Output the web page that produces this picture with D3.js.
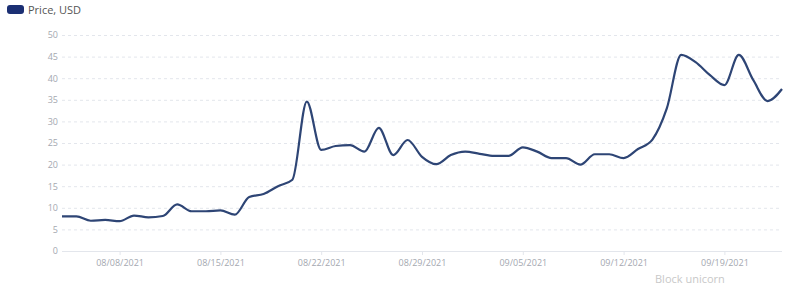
<!DOCTYPE html>
<html><head><meta charset="utf-8">
<script src="https://cdn.jsdelivr.net/npm/d3@7"></script>
<style>body{margin:0;background:#fff;}svg{display:block;font-family:"Open Sans",sans-serif;}</style>
</head><body><svg id="c" width="800" height="286"></svg>
<script>
const dates = ["2021-08-04","2021-08-05","2021-08-06","2021-08-07","2021-08-08","2021-08-09","2021-08-10","2021-08-11","2021-08-12","2021-08-13","2021-08-14","2021-08-15","2021-08-16","2021-08-17","2021-08-18","2021-08-19","2021-08-20","2021-08-21","2021-08-22","2021-08-23","2021-08-24","2021-08-25","2021-08-26","2021-08-27","2021-08-28","2021-08-29","2021-08-30","2021-08-31","2021-09-01","2021-09-02","2021-09-03","2021-09-04","2021-09-05","2021-09-06","2021-09-07","2021-09-08","2021-09-09","2021-09-10","2021-09-11","2021-09-12","2021-09-13","2021-09-14","2021-09-15","2021-09-16","2021-09-17","2021-09-18","2021-09-19","2021-09-20","2021-09-21","2021-09-22","2021-09-23"];
const prices = [8,8,7,7.2,6.9,8.2,7.8,8.1,10.8,9.2,9.2,9.4,8.4,12.5,13.2,15,16.5,34.6,23.4,24.3,24.5,23,28.5,22.2,25.7,21.8,20.1,22.2,23,22.5,22,22,24,23,21.5,21.5,20,22.4,22.4,21.5,23.6,25.8,33,45.4,43.7,40.7,38.4,45.4,39.6,34.7,37.5];
const yTicks = [0,5,10,15,20,25,30,35,40,45,50];
const xTickDates = ["2021-08-08","2021-08-15","2021-08-22","2021-08-29","2021-09-05","2021-09-12","2021-09-19"];
const seriesName = "Price, USD";

const parse = d3.utcParse("%Y-%m-%d");
const fmt = d3.utcFormat("%m/%d/%Y");
const data = dates.map((d,i)=>({date:parse(d), v:prices[i]}));
const svg = d3.select("#c");
const mLeft=62, mRight=782, mTop=35, mBottom=251;
const x = d3.scaleUtc().domain([parse(dates[0]), parse(dates[dates.length-1])]).range([mLeft,mRight]);
const y = d3.scaleLinear().domain([0,50]).range([mBottom,mTop]);

// grid
svg.append("g").selectAll("line").data(yTicks.filter(t=>t>0)).join("line")
  .attr("x1",mLeft).attr("x2",mRight).attr("y1",d=>y(d)+0.5).attr("y2",d=>y(d)+0.5)
  .attr("stroke","#e3e6ec").attr("stroke-dasharray","3,3").attr("stroke-width",1);
svg.append("line").attr("x1",mLeft).attr("x2",mRight).attr("y1",mBottom+0.5).attr("y2",mBottom+0.5)
  .attr("stroke","#e3e6ec");

// y axis labels
const ya = svg.append("g").attr("transform",`translate(${mLeft},0)`)
  .call(d3.axisLeft(y).tickValues(yTicks).tickSize(0).tickPadding(4));
ya.select(".domain").remove();
ya.selectAll("text").attr("fill","#a4a8b0").attr("font-size",9).attr("font-family","Open Sans");

// x axis
const xa = svg.append("g").attr("transform",`translate(0,${mBottom})`)
  .call(d3.axisBottom(x).tickValues(xTickDates.map(parse)).tickFormat(fmt).tickSize(4).tickPadding(5));
xa.select(".domain").remove();
xa.selectAll("line").attr("stroke","#e3e6ec");
xa.selectAll("text").attr("fill","#a4a8b0").attr("font-size",9).attr("font-family","Open Sans");

// line
svg.append("path").datum(data)
  .attr("d", d3.line().x(d=>x(d.date)).y(d=>y(d.v)).curve(d3.curveMonotoneX))
  .attr("fill","none").attr("stroke","#2e4575").attr("stroke-width",2.2).attr("stroke-linejoin","round");

// legend
svg.append("rect").attr("x",7).attr("y",5).attr("width",17).attr("height",9).attr("rx",3)
  .attr("fill","#1b2f73");
svg.append("text").attr("x",28).attr("y",13.5).text(seriesName)
  .attr("font-size",11).attr("fill","#555").attr("font-family","Open Sans");

// watermark
svg.append("text").attr("x",655).attr("y",282.5).text("Block unicorn")
  .attr("font-size",11).attr("fill","#c8c8c8").attr("font-family","Open Sans");
</script></body></html>
